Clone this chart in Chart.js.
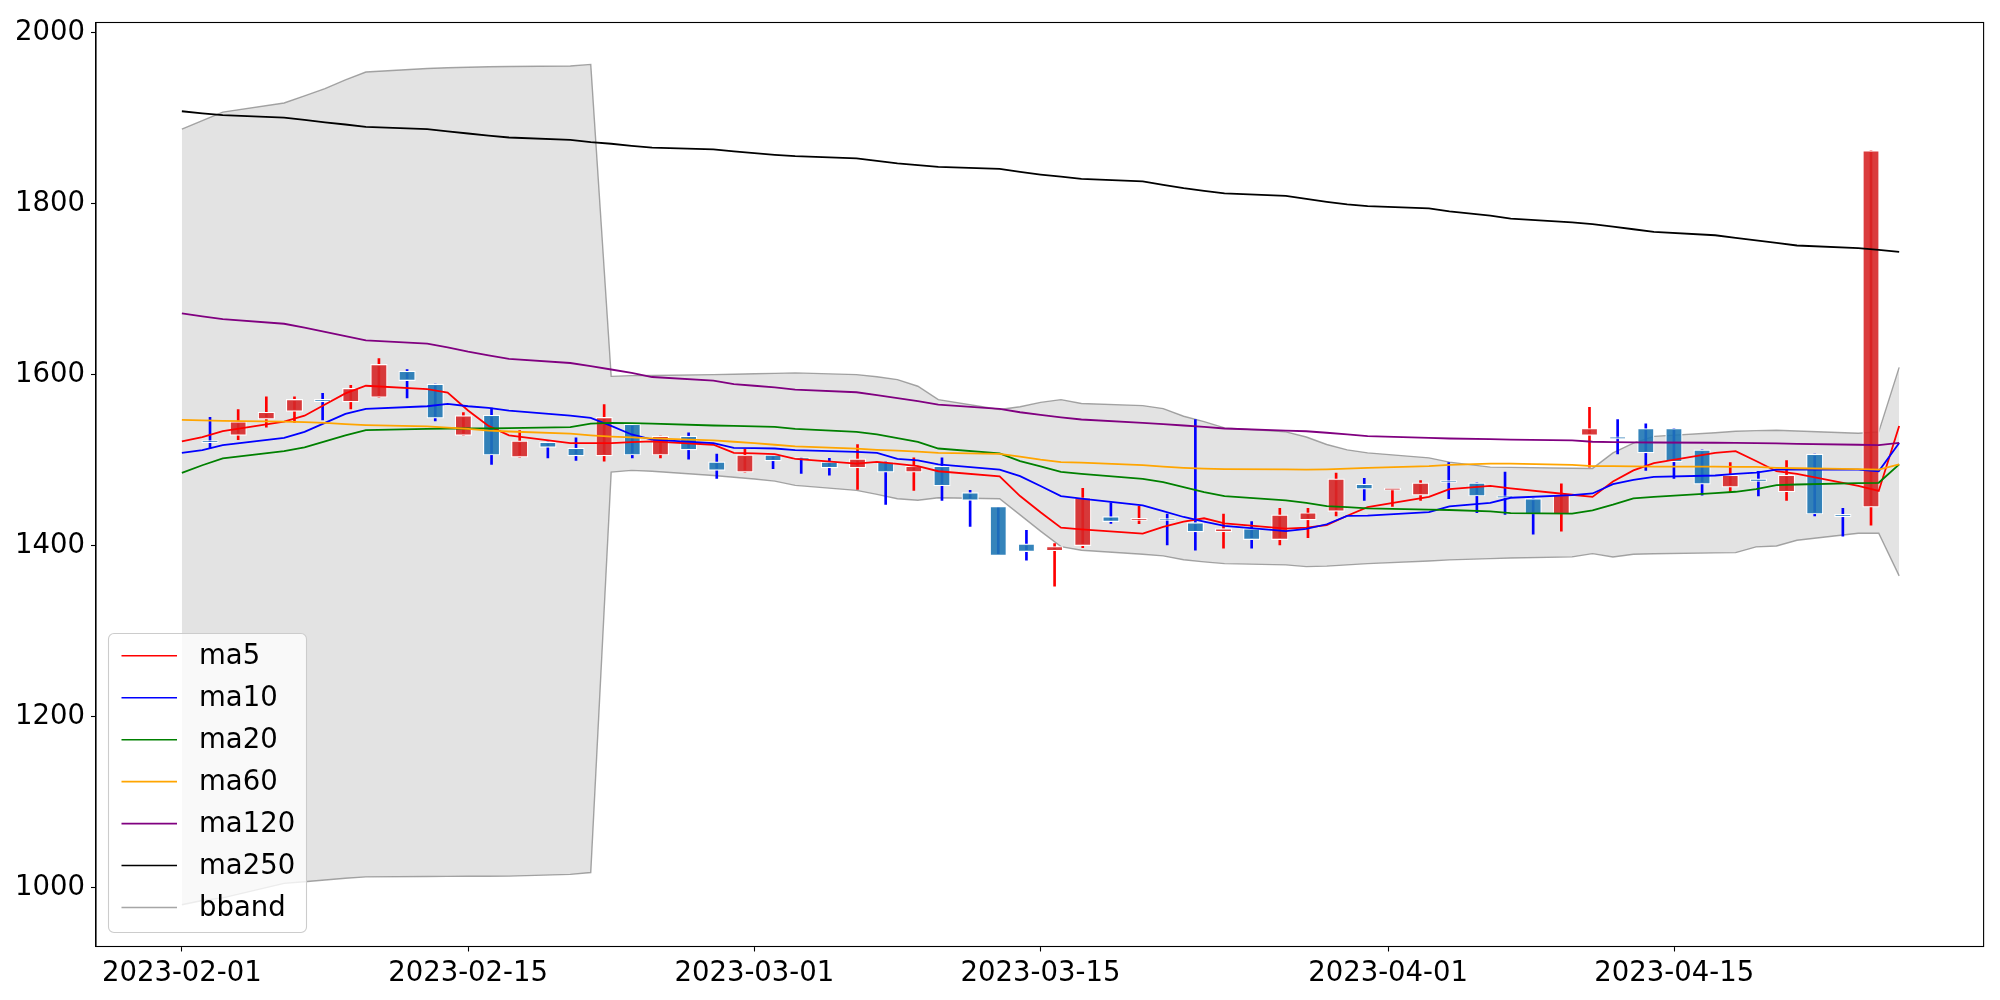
<!DOCTYPE html>
<html>
<head>
<meta charset="utf-8">
<script src="https://cdn.jsdelivr.net/npm/chart.js@4.4.1/dist/chart.umd.min.js"></script>
<style>
  html, body { margin: 0; padding: 0; background: #fff; }
  #wrap { width: 2000px; height: 1000px; }
</style>
</head>
<body>
<div id="wrap"><canvas id="myChart" width="2000" height="1000"></canvas></div>
<script>
var dates = [
  '2023-02-01', '2023-02-02', '2023-02-03', '2023-02-06', '2023-02-07', '2023-02-08', '2023-02-09', '2023-02-10',
  '2023-02-13', '2023-02-14', '2023-02-15', '2023-02-16', '2023-02-17', '2023-02-20', '2023-02-21', '2023-02-22',
  '2023-02-23', '2023-02-24', '2023-02-27', '2023-02-28',
  '2023-03-01', '2023-03-02', '2023-03-03', '2023-03-06', '2023-03-07', '2023-03-08', '2023-03-09', '2023-03-10',
  '2023-03-13', '2023-03-14', '2023-03-15', '2023-03-16', '2023-03-17', '2023-03-20', '2023-03-21', '2023-03-22',
  '2023-03-23', '2023-03-24', '2023-03-27', '2023-03-28', '2023-03-29', '2023-03-30', '2023-03-31',
  '2023-04-03', '2023-04-04', '2023-04-06', '2023-04-07', '2023-04-10', '2023-04-11', '2023-04-12', '2023-04-13',
  '2023-04-14', '2023-04-17', '2023-04-18', '2023-04-19', '2023-04-20', '2023-04-21', '2023-04-24', '2023-04-25',
  '2023-04-26',
]

var candleOpen = [
  1521.5, 1529, 1548, 1557, 1571, 1568, 1573.5, 1604, 1589, 1529,
  1552.5, 1503.5, 1521, 1514, 1505, 1542, 1506, 1528, 1498, 1486,
  1506, 1501.5, 1498, 1491, 1498, 1486, 1493, 1462, 1446, 1402,
  1394, 1400, 1434, 1429.6, 1429.8, 1427, 1416, 1420, 1407, 1430,
  1440, 1472, 1465, 1459, 1474.2, 1473.5, 1456.2, 1455, 1437, 1529,
  1525.2, 1537, 1537, 1512, 1468.5, 1478, 1463, 1507, 1436.5, 1445,
]
var candleClose = [
  1520.5, 1545, 1556, 1571, 1568, 1584, 1612, 1593, 1549, 1552,
  1506, 1522.5, 1515, 1505, 1550, 1506, 1528, 1512, 1488, 1506,
  1499, 1500.5, 1491, 1501.5, 1486, 1493, 1470, 1453, 1388.3, 1393,
  1399, 1456, 1428, 1429.6, 1429.4, 1416, 1420, 1407, 1436, 1438.5,
  1478, 1466, 1465, 1473.5, 1473.8, 1458, 1455.8, 1437, 1459, 1537,
  1524.8, 1508.5, 1498, 1472, 1482.5, 1475, 1482.5, 1437, 1433.5, 1862,
]
var candleHigh = [
  1550, 1559, 1574, 1574, 1578, 1587.5, 1618.7, 1606, 1589, 1555.6,
  1561, 1534.6, 1521, 1526, 1565, 1542, 1528, 1532, 1507, 1512.5,
  1506, 1502.7, 1502, 1518.3, 1498, 1502.7, 1502.7, 1464.6, 1446, 1418,
  1402.3, 1467, 1450, 1446, 1437, 1547.5, 1437, 1428, 1443.6, 1443.6,
  1485, 1478.6, 1465, 1476, 1497, 1473.5, 1486, 1455, 1472.4, 1561.8,
  1547.5, 1542.4, 1537, 1512, 1497, 1487, 1499.6, 1507, 1443.6, 1862,
]
var candleLow = [
  1514, 1524, 1538.5, 1544, 1547, 1560, 1573.5, 1572.7, 1546, 1529,
  1495, 1503.5, 1502.7, 1499.6, 1498.8, 1502.7, 1502.7, 1501, 1478.6, 1486,
  1490, 1484.5, 1482.5, 1465.8, 1448.3, 1464.6, 1453, 1422.6, 1388.3, 1383,
  1352.6, 1397.7, 1426, 1425.7, 1400.8, 1394.6, 1397, 1397, 1400.8, 1409.3,
  1434.7, 1453, 1446, 1453, 1455, 1438.5, 1436.6, 1413.3, 1417, 1491.8,
  1507.3, 1488, 1478.6, 1459, 1462, 1458, 1453, 1434.7, 1411, 1424,
]

var ma5 = [
  1522, 1527, 1534, 1545, 1552, 1565, 1578, 1587, 1583, 1579,
  1558, 1540, 1529, 1520, 1520, 1520, 1521, 1522, 1518, 1508.5,
  1508, 1507, 1501.5, 1496, 1498, 1495.7, 1493, 1487, 1481, 1458,
  1439, 1421, 1419, 1414, 1422, 1428, 1432, 1426, 1420, 1421,
  1424, 1435, 1445, 1457, 1466, 1470, 1467, 1459.5, 1457, 1475,
  1488, 1496.5, 1508.5, 1510.5, 1499, 1487, 1484, 1470, 1464, 1540,
]
var ma10 = [
  1508.5, 1511.7, 1517.5, 1526, 1533, 1543.5, 1554, 1560, 1563, 1565.7,
  1563, 1561, 1558, 1552, 1549.4, 1540, 1530, 1524, 1520, 1514.4,
  1514, 1513.6, 1511.7, 1509.7, 1508.5, 1501.5, 1499.6, 1495, 1489, 1481.3,
  1469.7, 1458, 1455, 1447, 1440.5, 1433.5, 1428, 1423, 1417, 1419.5,
  1425, 1434.7, 1435.2, 1439.3, 1446, 1450, 1456, 1459, 1461, 1472,
  1477, 1480.5, 1482, 1484, 1485.5, 1489, 1489, 1489, 1487, 1520,
]
var ma20 = [
  1485, 1494, 1502, 1510.5, 1515, 1522, 1529, 1535, 1536.5, 1537,
  1537, 1537, 1537.5, 1538.5, 1542.8, 1543.5, 1543.2, 1542.8, 1540.5, 1540,
  1539.5, 1538.9, 1536.5, 1533, 1530, 1525.7, 1521.4, 1513.6, 1507.8, 1498.8,
  1492.6, 1486.3, 1484, 1478.2, 1474.3, 1468.5, 1462.7, 1458, 1453, 1450,
  1446.3, 1445, 1443.6, 1442, 1441.7, 1440, 1438, 1437.5, 1441.3, 1448,
  1455.3, 1457, 1461.5, 1463, 1466, 1470.8, 1471.5, 1473, 1473.5, 1495,
]
var ma60 = [
  1547, 1546.5, 1546, 1545, 1544.5, 1543.5, 1542, 1541, 1539.5, 1538,
  1536.5, 1534.6, 1533.5, 1531, 1529, 1527.5, 1526.5, 1525.5, 1523, 1521.5,
  1520, 1518, 1516, 1513.5, 1512, 1511, 1510, 1508.5, 1507.3, 1504,
  1500.5, 1497.7, 1497, 1494.2, 1492.5, 1491, 1490, 1489.5, 1489.2, 1489,
  1489.3, 1490, 1491, 1493, 1494.5, 1496, 1496, 1494.5, 1493, 1493,
  1492.8, 1492.5, 1492.3, 1492.2, 1492, 1491, 1490.5, 1489.5, 1489, 1495,
]
var ma120 = [
  1671.5, 1668, 1665, 1659.5, 1655, 1650, 1645, 1640, 1636.2, 1632,
  1627, 1622.6, 1618.5, 1613.6, 1610, 1606, 1602, 1597.2, 1593, 1589,
  1587, 1585, 1582.5, 1579.4, 1576, 1572.5, 1569, 1565, 1560, 1556,
  1553, 1550, 1547.5, 1543.6, 1542, 1540.5, 1538.9, 1537, 1534.6, 1533.8,
  1532, 1530, 1528, 1526, 1525.3, 1524.5, 1524, 1523, 1521.5, 1521,
  1520.8, 1520.6, 1520.3, 1520.2, 1520, 1519.5, 1519, 1518, 1517.5, 1520.2,
]
var ma250 = [
  1908, 1905.5, 1903.4, 1900.6, 1898, 1895, 1892.5, 1889.8, 1887, 1884.5,
  1882, 1879.5, 1877.3, 1874.6, 1872, 1870, 1867.6, 1865.5, 1863.5, 1861,
  1859, 1857, 1855.5, 1853, 1850, 1847, 1845, 1843, 1840.5, 1837,
  1834, 1831.5, 1829, 1826, 1822, 1818, 1815, 1812, 1809, 1805.5,
  1802, 1799, 1797, 1794.5, 1791, 1786, 1782.5, 1778, 1776, 1773,
  1770, 1767, 1763, 1760, 1757, 1754, 1751, 1748, 1746, 1743.5,
]
var bbUpper = [
  1887, 1897, 1907, 1917.7, 1926, 1934.4, 1944.6, 1953.9, 1958, 1958.9,
  1959.5, 1960, 1960.3, 1960.9, 1962.8, 1598, 1598.8, 1599, 1600, 1600.5,
  1601, 1601.5, 1602, 1600, 1597.5, 1594.2, 1586.4, 1570.8, 1559.2, 1562.5,
  1567.5, 1570.8, 1566.2, 1563.8, 1560.3, 1551.3, 1545, 1537.7, 1533, 1527,
  1518.3, 1512, 1508.5, 1502.7, 1497.7, 1491.8, 1491.5, 1490.5, 1490.3, 1508.5,
  1520, 1527.8, 1532, 1533.8, 1534.5, 1535, 1534, 1531.5, 1533, 1608.5,
]
var bbLower = [
  980, 985, 988, 1005, 1007, 1009, 1011, 1012.6, 1013, 1013.2,
  1013.3, 1013.4, 1013.5, 1015.5, 1017.7, 1486, 1488, 1487, 1482, 1480,
  1478, 1475.5, 1470.5, 1464.6, 1460, 1454.9, 1453, 1456, 1454.9, 1436,
  1417, 1398.8, 1394.6, 1390, 1388, 1383.5, 1381, 1379, 1377.5, 1375.5,
  1376, 1377.5, 1379, 1382, 1383.3, 1384.8, 1385.5, 1386.8, 1390.7, 1386.8,
  1390, 1390.5, 1391.5, 1391.8, 1398.5, 1399.6, 1406.3, 1414.5, 1414.5, 1364.6,
]

var xTickLabels = ['2023-02-01', '2023-02-15', '2023-03-01', '2023-03-15', '2023-04-01', '2023-04-15']
var yTicks = [1000, 1200, 1400, 1600, 1800, 2000]

const FONT = 'DejaVu Sans'
const FONT_SIZE = 27.5

function dayOf(s) {
  return (Date.parse(s) - Date.parse(dates[0])) / 86400000
}

function generateGraph() {
  const days = dates.map(dayOf)
  const xMin = -4.2
  const xMax = 88.13
  // candles sit on evenly spaced slots (1..n) that span the date range
  const slotDays = days[days.length - 1] / (dates.length + 1)

  const pts = values => values.map((v, i) => ({ x: days[i], y: v }))
  const up = candleOpen.map((o, i) => candleClose[i] >= o)

  const lineSet = (label, values, color, order) => ({
    type: 'line',
    label,
    data: pts(values),
    borderColor: color,
    borderWidth: 1.8,
    pointRadius: 0,
    tension: 0,
    fill: false,
    order,
    xAxisID: 'x',
    yAxisID: 'y',
  })

  const datasets = [
    {
      type: 'line',
      label: 'bband',
      data: pts(bbUpper),
      borderColor: 'rgba(128, 128, 128, 0.7)',
      borderWidth: 1.4,
      pointRadius: 0,
      tension: 0,
      fill: '+1',
      backgroundColor: 'rgba(128, 128, 128, 0.22)',
      order: 20,
      xAxisID: 'x',
      yAxisID: 'y',
    },
    {
      type: 'line',
      data: pts(bbLower),
      borderColor: 'rgba(128, 128, 128, 0.7)',
      borderWidth: 1.4,
      pointRadius: 0,
      tension: 0,
      fill: false,
      order: 19,
      xAxisID: 'x',
      yAxisID: 'y',
    },
    {
      type: 'bar',
      data: candleLow.map((l, i) => ({ x: i + 1, y: [l, candleHigh[i]] })),
      backgroundColor: up.map(u => (u ? '#ff0000' : '#0000ff')),
      borderWidth: 0,
      barThickness: 2,
      grouped: false,
      order: 15,
      xAxisID: 'xc',
      yAxisID: 'y',
    },
    {
      type: 'bar',
      data: candleOpen.map((o, i) => ({ x: i + 1, y: [o, candleClose[i]] })),
      backgroundColor: up.map(u => (u ? 'rgba(214, 39, 40, 0.9)' : 'rgba(31, 119, 180, 0.9)')),
      borderColor: '#ffffff',
      borderWidth: 1.2,
      borderSkipped: false,
      barThickness: 16.5,
      minBarLength: 2,
      grouped: false,
      order: 14,
      xAxisID: 'xc',
      yAxisID: 'y',
    },
    lineSet('ma5', ma5, '#ff0000', 6),
    lineSet('ma10', ma10, '#0000ff', 5),
    lineSet('ma20', ma20, '#008000', 4),
    lineSet('ma60', ma60, '#ffa500', 3),
    lineSet('ma120', ma120, '#800080', 2),
    lineSet('ma250', ma250, '#000000', 1),
  ]

  // axes frame + legend box in the lower left corner
  const framePlugin = {
    id: 'frame',
    afterDraw(chart) {
      const { ctx, chartArea: a } = chart
      ctx.save()
      ctx.strokeStyle = '#000'
      ctx.lineWidth = 1.1
      ctx.strokeRect(a.left, a.top, a.right - a.left, a.bottom - a.top)

      const items = [
        ['ma5', '#ff0000'], ['ma10', '#0000ff'], ['ma20', '#008000'], ['ma60', '#ffa500'],
        ['ma120', '#800080'], ['ma250', '#000000'], ['bband', 'rgba(128, 128, 128, 0.7)'],
      ]
      const bx = a.left + 12.5
      const bw = 198
      const bh = 299
      const by = a.bottom - 14 - bh
      const r = 5.5
      ctx.beginPath()
      ctx.moveTo(bx + r, by)
      ctx.arcTo(bx + bw, by, bx + bw, by + bh, r)
      ctx.arcTo(bx + bw, by + bh, bx, by + bh, r)
      ctx.arcTo(bx, by + bh, bx, by, r)
      ctx.arcTo(bx, by, bx + bw, by, r)
      ctx.closePath()
      ctx.fillStyle = 'rgba(255, 255, 255, 0.8)'
      ctx.fill()
      ctx.strokeStyle = '#cccccc'
      ctx.lineWidth = 1.1
      ctx.stroke()

      ctx.font = FONT_SIZE + 'px "' + FONT + '"'
      ctx.textBaseline = 'middle'
      ctx.textAlign = 'left'
      items.forEach(([label, color], i) => {
        const y = by + 22.3 + i * 41.95
        ctx.strokeStyle = color
        ctx.lineWidth = 1.6
        ctx.beginPath()
        ctx.moveTo(bx + 13, y)
        ctx.lineTo(bx + 68.5, y)
        ctx.stroke()
        ctx.fillStyle = '#000'
        ctx.fillText(label, bx + 90.5, y + 1)
      })
      ctx.restore()
    },
  }

  const tickFont = { family: FONT, size: FONT_SIZE }
  const tickGrid = {
    display: true,
    offset: false,
    drawOnChartArea: false,
    drawTicks: true,
    tickLength: 5,
    color: '#000',
    tickWidth: 1.1,
  }

  const ctx = document.getElementById('myChart').getContext('2d')
  const myChart = new Chart(ctx, {
    type: 'bar',
    data: { datasets },
    options: {
      responsive: false,
      animation: false,
      devicePixelRatio: 1,
      layout: { padding: { left: 0, right: 16.4, top: 20.4, bottom: 0 } },
      plugins: {
        legend: { display: false },
        tooltip: { enabled: false },
      },
      scales: {
        x: {
          type: 'linear',
          position: 'bottom',
          min: xMin,
          max: xMax,
          offset: false,
          grid: tickGrid,
          border: { display: true, color: '#000', width: 1.1 },
          afterBuildTicks: scale => {
            scale.ticks = xTickLabels.map(t => ({ value: dayOf(t) }))
          },
          afterFit: scale => {
            scale.height = 53.5
          },
          ticks: {
            autoSkip: false,
            maxRotation: 0,
            padding: 6,
            color: '#000',
            font: tickFont,
            callback: (value, index) => xTickLabels[index],
          },
        },
        xc: {
          type: 'linear',
          display: false,
          offset: false,
          min: xMin / slotDays,
          max: xMax / slotDays,
        },
        y: {
          type: 'linear',
          position: 'left',
          min: 931.2,
          max: 2011.8,
          grid: tickGrid,
          border: { display: true, color: '#000', width: 1.1 },
          afterBuildTicks: scale => {
            scale.ticks = yTicks.map(v => ({ value: v }))
          },
          afterFit: scale => {
            scale.width = 96
          },
          ticks: {
            padding: 6,
            color: '#000',
            font: tickFont,
            callback: value => String(value),
          },
        },
      },
    },
    plugins: [framePlugin],
  })
}

generateGraph()
</script>
</body>
</html>
